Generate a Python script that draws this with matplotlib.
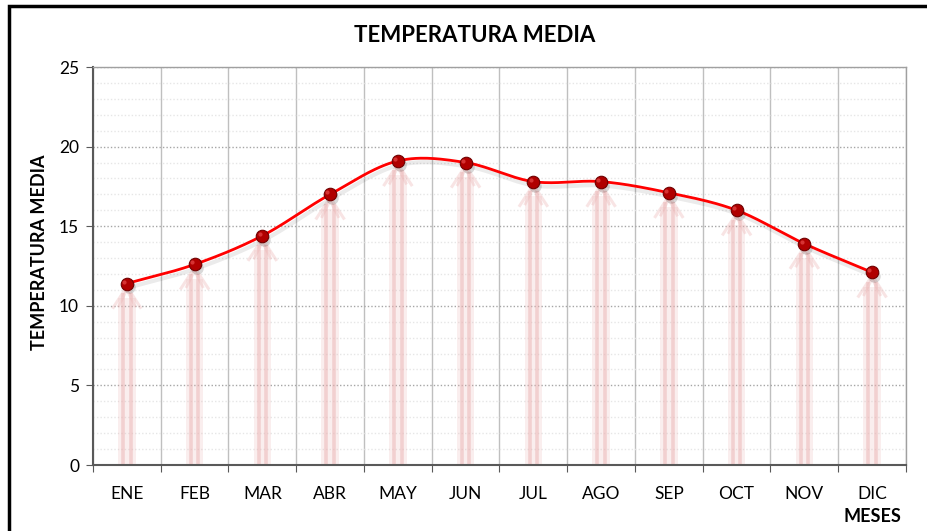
import numpy as np
import matplotlib
matplotlib.use("Agg")
import matplotlib.pyplot as plt
from matplotlib.patches import Rectangle

months = ["ENE", "FEB", "MAR", "ABR", "MAY", "JUN", "JUL", "AGO", "SEP", "OCT", "NOV", "DIC"]
temps = [11.4, 12.6, 14.4, 17.0, 19.1, 19.0, 17.8, 17.8, 17.1, 16.0, 13.9, 12.1]
yticks = [0, 5, 10, 15, 20, 25]

plt.rcParams['font.family'] = ['Lato', 'DejaVu Sans']

fig = plt.figure(figsize=(9.28, 5.31), dpi=100)
ax = fig.add_axes([93/928, 66/531, (906-93)/928, (465-67)/531])

x = np.arange(1, len(months) + 1)
y = np.array(temps)

# smooth curve through points (Catmull-Rom)
def catmull(xs, ys, n=30):
    px = np.concatenate([[2*xs[0]-xs[1]], xs, [2*xs[-1]-xs[-2]]])
    py = np.concatenate([[2*ys[0]-ys[1]], ys, [2*ys[-1]-ys[-2]]])
    ox, oy = [], []
    for i in range(1, len(px)-2):
        t = np.linspace(0, 1, n, endpoint=False)
        for arr, out in ((px, ox), (py, oy)):
            p0, p1, p2, p3 = arr[i-1], arr[i], arr[i+1], arr[i+2]
            out.extend(0.5*((2*p1) + (-p0+p2)*t + (2*p0-5*p1+4*p2-p3)*t**2 + (-p0+3*p1-3*p2+p3)*t**3))
    ox.append(xs[-1]); oy.append(ys[-1])
    return np.array(ox), np.array(oy)

sx, sy = catmull(x.astype(float), y)

# arrows (pink, translucent)
pink = (0.92, 0.70, 0.70)
for xi, yi in zip(x, y):
    ax.fill_between([xi-0.13, xi+0.13], 0, yi-0.9, color=pink, alpha=0.22, lw=0, zorder=2)
    for dx in (-0.055, 0.055):
        ax.plot([xi+dx, xi+dx], [0, yi-0.6], color=pink, lw=2.6, alpha=0.5, zorder=2, solid_capstyle='butt')
    ax.plot([xi-0.2, xi, xi+0.2], [yi-1.5, yi-0.2, yi-1.5], color=pink, lw=2.2, alpha=0.35, zorder=2)
    ax.plot([xi-0.12, xi, xi+0.12], [yi-1.4, yi-0.4, yi-1.4], color=pink, lw=2.0, alpha=0.35, zorder=2)

# line with shadow
ax.plot(sx + 0.03, sy - 0.25, color='black', lw=3, alpha=0.08, zorder=3)
ax.plot(sx, sy, color='#ff0000', lw=2, zorder=4)
ax.plot(x + 0.03, y - 0.25, 'o', color='black', ms=9, alpha=0.15, mec='none', zorder=4)
ax.plot(x, y, 'o', color='#b00000', ms=9, mec='#700000', mew=0.8, zorder=5)
ax.plot(x - 0.04, y + 0.12, 'o', color='#e04040', ms=3, mec='none', alpha=0.8, zorder=6)

ax.set_xlim(0.5, 12.5)
ax.set_ylim(0, 25)
ax.set_yticks(yticks)
ax.set_yticklabels([str(v) for v in yticks])
ax.set_yticks(np.arange(0, 26, 1), minor=True)

ax.set_xticks(np.arange(0.5, 13, 1))
ax.set_xticklabels([])
ax.set_xticks(x, minor=True)
ax.set_xticklabels(months, minor=True)
ax.tick_params(axis='x', which='minor', length=0, pad=15, labelsize=12.5)
ax.tick_params(axis='x', which='major', length=5, color='#595959')
ax.tick_params(axis='y', which='major', length=5, color='#595959', labelsize=12.5, pad=5)
ax.tick_params(axis='y', which='minor', length=0)

ax.grid(axis='x', which='major', color='#bfbfbf', lw=1, linestyle='-')
ax.grid(axis='y', which='major', color='#a6a6a6', lw=1, linestyle=(0, (1, 1.5)))
ax.grid(axis='y', which='minor', color='#e6e6e6', lw=1, linestyle=(0, (1, 1.5)))
ax.set_axisbelow(True)

for s in ('left', 'bottom'):
    ax.spines[s].set_color('#595959')
    ax.spines[s].set_linewidth(1.5)
for s in ('top', 'right'):
    ax.spines[s].set_color('#a0a0a0')
    ax.spines[s].set_linewidth(1)

fig.text(475/928, 1 - 36/531, "TEMPERATURA MEDIA", ha='center', va='center', fontsize=16, fontweight='bold')
fig.text(40/928, 1 - 252/531, "TEMPERATURA MEDIA", ha='center', va='center', rotation=90, fontsize=13, fontweight='bold')
fig.text(872/928, 1 - 516/531, "MESES", ha='center', va='center', fontsize=13, fontweight='bold')

# outer border (extends past right/bottom)
fig.patches.append(Rectangle((9/928, -0.1), 1.2, 1 - 6/531 + 0.1, transform=fig.transFigure,
                             fill=False, edgecolor='black', lw=2.5, zorder=10))

fig.savefig("out.png", dpi=100)
